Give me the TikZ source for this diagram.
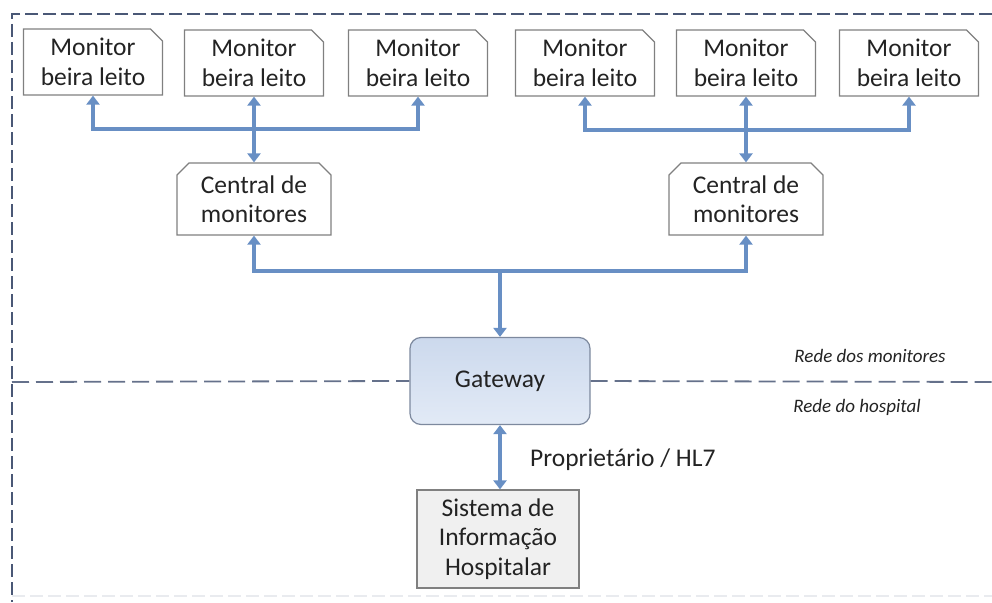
\documentclass[tikz,border=0pt]{standalone}
\usepackage{fontspec}
\setmainfont{Carlito}
\usetikzlibrary{arrows.meta,shapes.misc}

\definecolor{linkblue}{RGB}{104,143,196}
\definecolor{framegray}{RGB}{74,88,118}
\definecolor{boxgray}{RGB}{128,128,128}
\definecolor{gwtop}{RGB}{204,217,237}
\definecolor{gwbot}{RGB}{226,234,246}
\definecolor{gwline}{RGB}{125,137,158}
\definecolor{hisfill}{RGB}{240,240,240}
\definecolor{txtgray}{RGB}{35,35,35}

\begin{document}
\begin{tikzpicture}[
  x=1pt, y=-1pt,
  >={Triangle[length=9pt,width=13pt]},
  conn/.style={draw=linkblue, line width=3.4pt},
  label/.style={text=txtgray, font=\fontsize{25.5}{29.5}\selectfont, align=center, inner sep=0pt},
  monbox/.style={label, draw=boxgray, line width=1.2pt, fill=white, chamfered rectangle,
                 chamfered rectangle corners=north east, chamfered rectangle xsep=6pt,
                 chamfered rectangle ysep=6pt, minimum width=139pt, minimum height=66pt},
  ctrbox/.style={monbox, chamfered rectangle corners={north east, north west},
                 minimum width=154pt, minimum height=72pt},
  gwbox/.style={label, draw=gwline, line width=1.2pt, rounded corners=11pt,
                top color=gwtop, bottom color=gwbot, minimum width=180pt, minimum height=87pt},
  hisbox/.style={label, draw=boxgray, line width=1.2pt, fill=hisfill,
                 minimum width=162pt, minimum height=98pt},
  frame/.style={draw=framegray, line width=2.8pt, dash pattern=on 13pt off 5pt},
  netline/.style={draw=framegray!85, line width=1.8pt, dash pattern=on 17pt off 7pt},
  netlabel/.style={text=txtgray, font=\fontsize{19}{22}\selectfont\itshape},
]
\useasboundingbox (0,0) rectangle (992,602);

% ===== Frame =====
\draw[frame] (992,14) -- (12,14) -- (12,602);
\draw[frame, draw=framegray!12] (12,596) -- (992,596);

% ===== Monitor network =====
\node[monbox] (m1) at (93,62) {Monitor\\beira leito};
\node[monbox] (m2) at (254,63) {Monitor\\beira leito};
\node[monbox] (m3) at (418,63) {Monitor\\beira leito};
\node[monbox] (m4) at (585,63) {Monitor\\beira leito};
\node[monbox] (m5) at (746,63) {Monitor\\beira leito};
\node[monbox] (m6) at (909,63) {Monitor\\beira leito};

\node[ctrbox] (c1) at (254,199) {Central de\\monitores};
\node[ctrbox] (c2) at (746,199) {Central de\\monitores};

\coordinate (j1) at (254,129);
\coordinate (j2) at (746,130);
\coordinate (j3) at (500,271);

\draw[conn, <->] (m1.south) -- (m1.south |- j1) -- (m3.south |- j1) -- (m3.south);
\draw[conn, <->] (m2.south) -- (c1.north);
\draw[conn, <->] (m4.south) -- (m4.south |- j2) -- (m6.south |- j2) -- (m6.south);
\draw[conn, <->] (m5.south) -- (c2.north);

\draw[conn, <->] (c1.south) -- (c1.south |- j3) -- (c2.south |- j3) -- (c2.south);

% ===== Gateway =====
\node[gwbox] (gw) at (500,381) {Gateway};
\draw[conn, ->] (j3) -- (gw.north);

\coordinate (netL) at (12,382);
\coordinate (netR) at (992,382);
\draw[netline] (netL) -- (gw.west);
\draw[netline] (gw.east) -- (netR);

\node[netlabel] (lblmon) at (870,356) {Rede dos monitores};
\node[netlabel] (lblhosp) at (857,407) {Rede do hospital};

% ===== Hospital network =====
\node[hisbox] (his) at (498,539) {Sistema de\\Informação\\Hospitalar};
\draw[conn, <->] (gw.south) -- (his.north -| gw.south);
\node[label, anchor=west] (proto) at (530,460) {Proprietário / HL7};

\end{tikzpicture}
\end{document}
